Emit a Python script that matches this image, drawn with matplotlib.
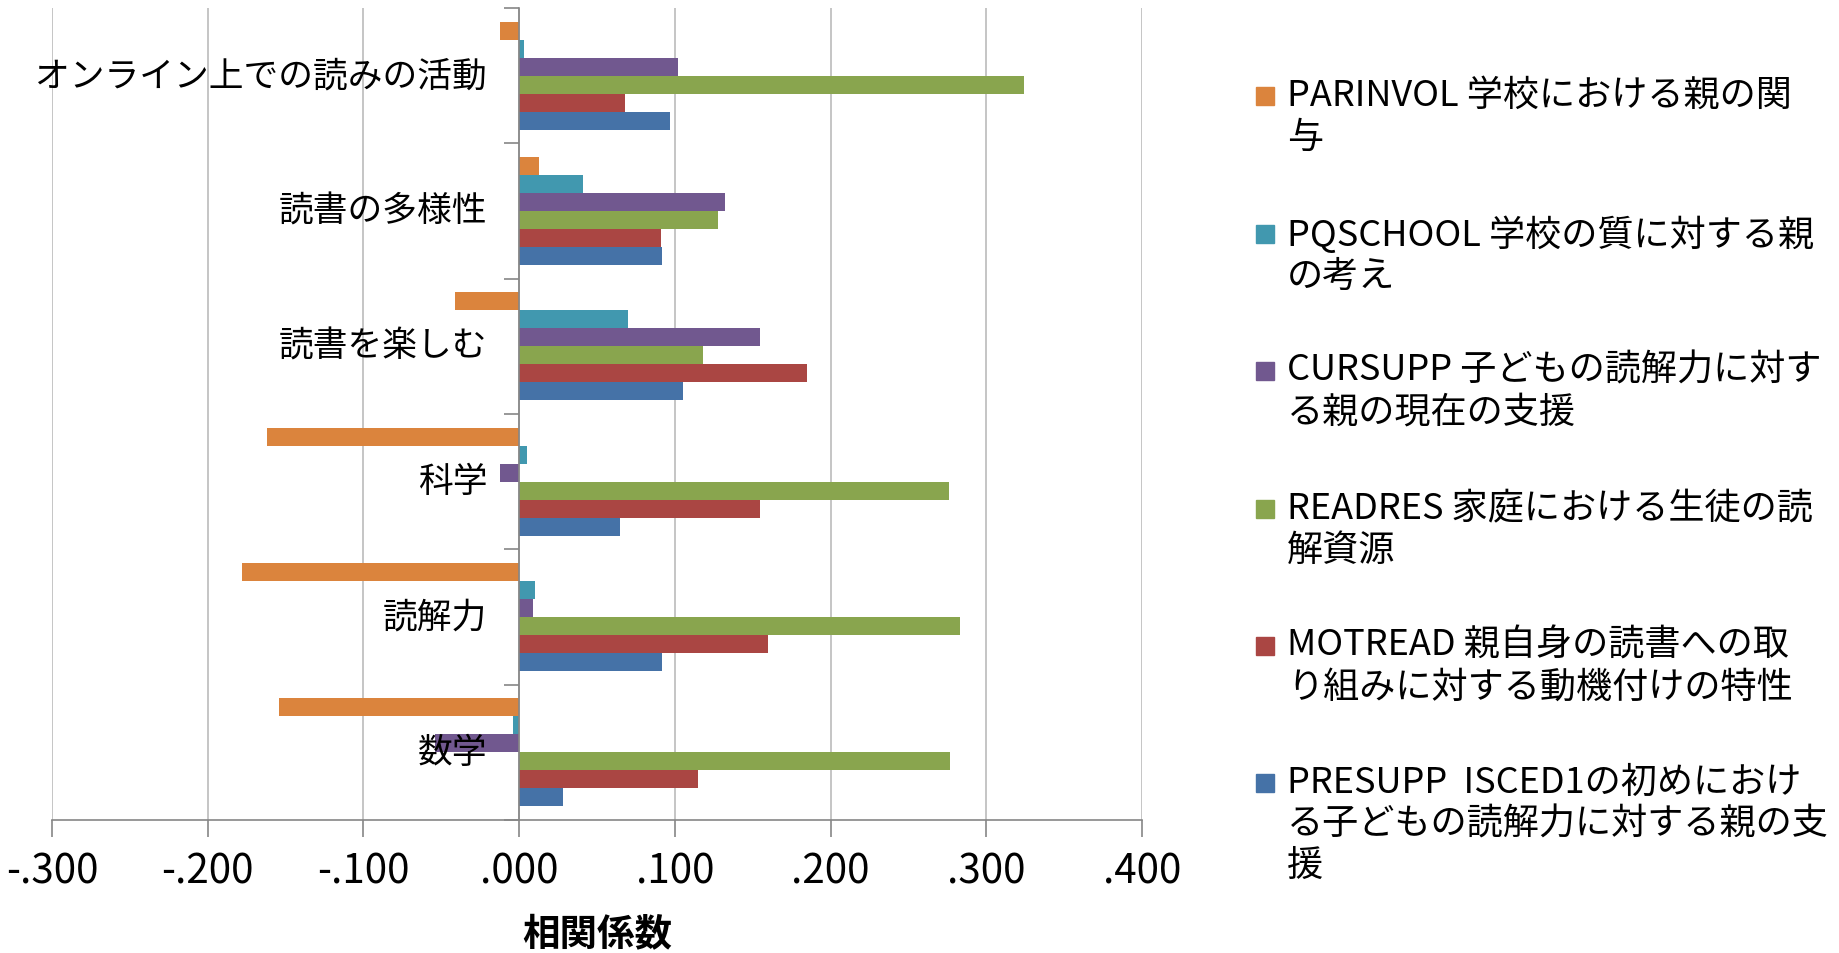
import matplotlib
matplotlib.use("Agg")
import matplotlib.pyplot as plt
import numpy as np
from matplotlib.patches import Rectangle

plt.rcParams["font.family"] = ["Noto Sans CJK JP", "DejaVu Sans"]

# categories, bottom to top (Excel order)
categories = ["数学", "読解力", "科学", "読書を楽しむ", "読書の多様性", "オンライン上での読みの活動"]

# correlation values per series, same order as categories
presupp = [0.028, 0.092, 0.065, 0.105, 0.092, 0.097]
motread = [0.115, 0.160, 0.155, 0.185, 0.091, 0.068]
readres = [0.277, 0.283, 0.276, 0.118, 0.128, 0.324]
cursupp = [-0.054, 0.009, -0.012, 0.155, 0.132, 0.102]
pqschool = [-0.004, 0.010, 0.005, 0.070, 0.041, 0.003]
parinvol = [-0.154, -0.178, -0.162, -0.041, 0.013, -0.012]

series_labels = [
    "PRESUPP  ISCED1の初めにおけ\nる子どもの読解力に対する親の支\n援",
    "MOTREAD 親自身の読書への取\nり組みに対する動機付けの特性",
    "READRES 家庭における生徒の読\n解資源",
    "CURSUPP 子どもの読解力に対す\nる親の現在の支援",
    "PQSCHOOL 学校の質に対する親\nの考え",
    "PARINVOL 学校における親の関\n与",
]
colors = ["#4572A7", "#AA4643", "#89A54E", "#71588F", "#4198AF", "#DB843D"]

x_ticks = [-0.3, -0.2, -0.1, 0.0, 0.1, 0.2, 0.3, 0.4]
x_tick_labels = ["-.300", "-.200", "-.100", ".000", ".100", ".200", ".300", ".400"]
x_label = "相関係数"

W, H = 1840, 954


def main():
    fig = plt.figure(figsize=(W / 100, H / 100), dpi=100)
    ax = fig.add_axes([52 / W, 1 - 821 / H, (1142 - 52) / W, (821 - 9) / H])

    series = [presupp, motread, readres, cursupp, pqschool, parinvol]
    n = len(series)
    h = 1 / (n + 1.5)
    y = np.arange(len(categories))
    for k, vals in enumerate(series):
        ax.barh(y + (k - (n - 1) / 2) * h, vals, height=h, color=colors[k],
                edgecolor="none", zorder=2)

    ax.set_xlim(-0.3, 0.4)
    ax.set_ylim(-0.5, len(categories) - 0.5)
    ax.set_xticks(x_ticks)
    ax.set_xticklabels(x_tick_labels, fontsize=29)
    ax.tick_params(axis="x", length=12, width=1.2, color="#868686", pad=10)
    ax.xaxis.grid(True, color="#BBBBBB", lw=1.2)
    ax.set_axisbelow(True)

    # category axis sits at zero
    ax.spines["left"].set_position(("data", 0))
    ax.spines["left"].set_color("#868686")
    ax.spines["left"].set_linewidth(1.2)
    ax.set_yticks(np.arange(-0.5, len(categories), 1.0))
    ax.set_yticklabels([])
    ax.tick_params(axis="y", length=11, width=1.2, color="#868686")
    ax.spines["bottom"].set_color("#868686")
    ax.spines["bottom"].set_linewidth(1.2)
    ax.spines["top"].set_visible(False)
    ax.spines["right"].set_visible(False)

    for i, cat in enumerate(categories):
        ax.annotate(cat, xy=(0, i), xytext=(-32, 0), textcoords="offset pixels",
                    ha="right", va="center", fontsize=25, zorder=5)

    ax.set_xlabel(x_label, fontsize=27, fontweight="bold")
    ax.xaxis.set_label_coords(0.5, -(935 - 821) / (821 - 9))
    ax.xaxis.label.set_va("center")

    # legend, drawn top to bottom
    tops = [97, 235, 372, 510, 647, 784]
    for j, idx in enumerate(range(n - 1, -1, -1)):
        yc = tops[j]
        fig.patches.append(Rectangle((1256 / W, 1 - (yc + 9) / H), 18 / W, 18 / H,
                                     transform=fig.transFigure, color=colors[idx]))
        fig.text(1287 / W, 1 - (yc - 19) / H, series_labels[idx], fontsize=26,
                 va="top", ha="left", linespacing=1.2)

    fig.savefig("out.png", dpi=100)


if __name__ == "__main__":
    main()
